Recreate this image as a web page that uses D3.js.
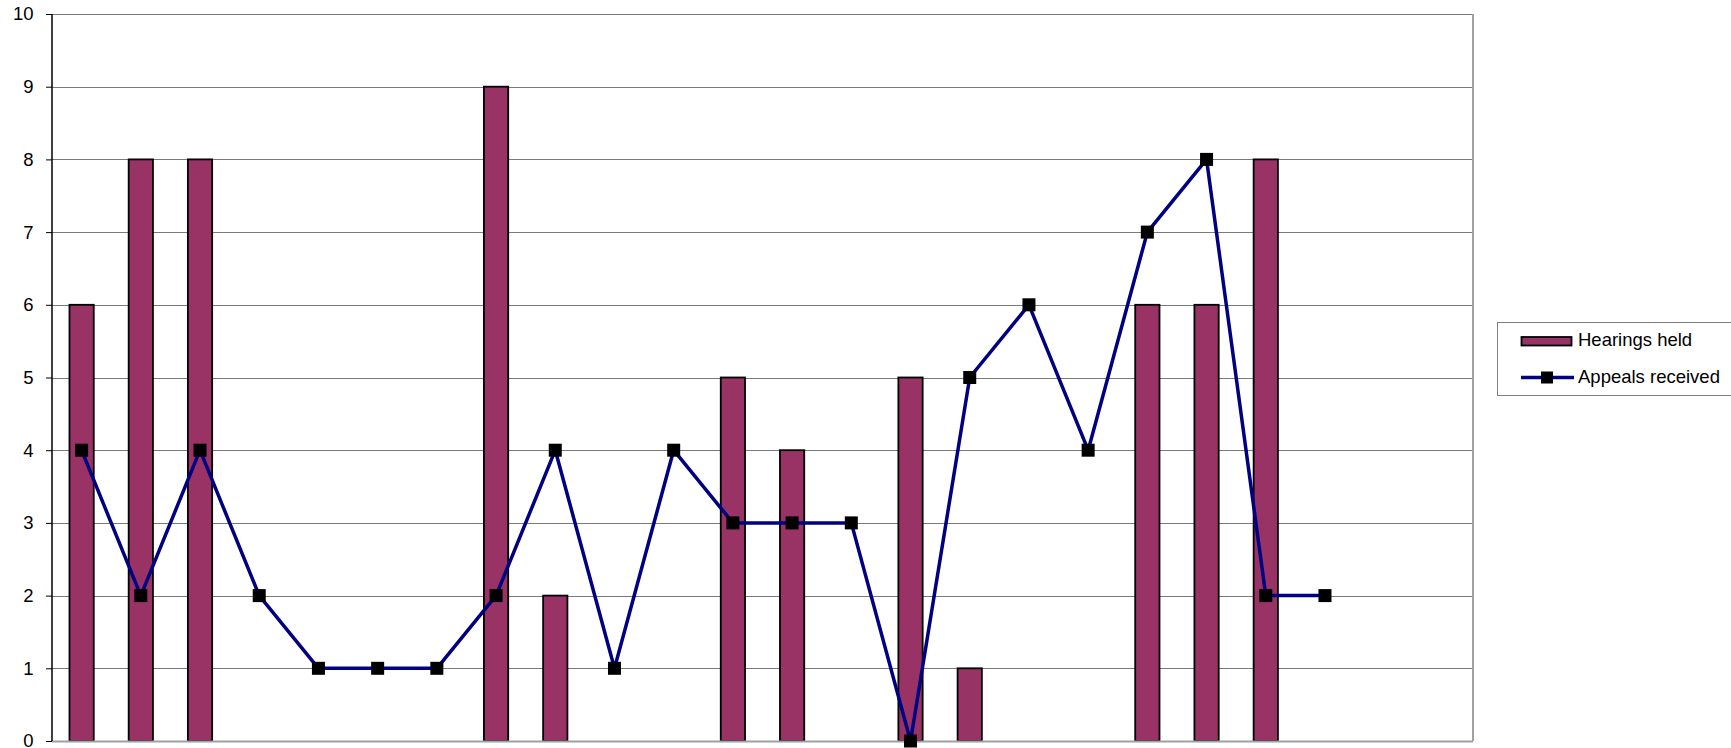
<!DOCTYPE html>
<html><head><meta charset="utf-8">
<script src="https://cdn.jsdelivr.net/npm/d3@7"></script>
<style>html,body{margin:0;padding:0;background:#fff;}svg{display:block;}</style>
</head><body>
<svg id="c" width="1731" height="748"></svg>
<script>
const categories = ["1","2","3","4","5","6","7","8","9","10","11","12","13","14","15","16","17","18","19","20","21","22","23","24"];
const hearingsHeld = [6,8,8,null,null,null,null,9,2,null,null,5,4,null,5,1,null,null,6,6,8,null,null,null];
const appealsReceived = [4,2,4,2,1,1,1,2,4,1,4,3,3,3,0,5,6,4,7,8,2,2,null,null];
const yTicks = [0,1,2,3,4,5,6,7,8,9,10];
const seriesNames = ["Hearings held","Appeals received"];

(function(){
const svg = d3.select("#c");
const pLeft = 52, pRight = 1473, pTop = 14, pBottom = 741;
const font = "'Liberation Sans', Arial, sans-serif";
const fs = 18.5;

const x = d3.scaleBand().domain(categories).range([pLeft, pRight]).paddingInner(0.59).paddingOuter(0.295);
const y = d3.scaleLinear().domain([0,10]).range([pBottom, pTop]);
const cx = c => x(c) + x.bandwidth()/2;

// gridlines
svg.append("g").selectAll("line").data(yTicks.filter(t => t > 0)).join("line")
  .attr("x1", pLeft).attr("x2", pRight)
  .attr("y1", d => Math.round(y(d)) + 0.5).attr("y2", d => Math.round(y(d)) + 0.5)
  .attr("stroke", "#7a7a7a").attr("stroke-width", 1);

// right border
svg.append("line").attr("x1", pRight).attr("x2", pRight).attr("y1", pTop).attr("y2", pBottom)
  .attr("stroke", "#a0a0a0").attr("stroke-width", 2);

// bars
svg.append("g").selectAll("rect")
  .data(categories.map((c,i) => ({c, v: hearingsHeld[i]})).filter(d => d.v != null))
  .join("rect")
  .attr("x", d => x(d.c)).attr("width", x.bandwidth())
  .attr("y", d => y(d.v)).attr("height", d => y(0) - y(d.v))
  .attr("fill", "#993366").attr("stroke", "#000").attr("stroke-width", 1.8);

// bottom axis
svg.append("line").attr("x1", pLeft).attr("x2", pRight).attr("y1", pBottom+0.5).attr("y2", pBottom+0.5)
  .attr("stroke", "#a0a0a0").attr("stroke-width", 2);

// y axis
const yAxis = d3.axisLeft(y).tickValues(yTicks).tickSize(6).tickPadding(12.5).tickFormat(d3.format("d"));
const ga = svg.append("g").attr("transform", `translate(${pLeft},0)`).call(yAxis);
ga.select(".domain").attr("stroke", "#000").attr("stroke-width", 1.5).attr("d", `M0,${pTop}V${pBottom}`);
ga.selectAll(".tick line").attr("stroke", "#000");
ga.selectAll(".tick text").attr("font-family", font).attr("font-size", fs).attr("fill", "#000");

// line
const lineData = categories.map((c,i) => ({c, v: appealsReceived[i]})).filter(d => d.v != null);
svg.append("path").datum(lineData)
  .attr("d", d3.line().x(d => cx(d.c)).y(d => y(d.v)))
  .attr("fill", "none").attr("stroke", "#000080").attr("stroke-width", 3.5).attr("stroke-linejoin", "round");
const ms = 13;
svg.append("g").selectAll("rect").data(lineData).join("rect")
  .attr("x", d => cx(d.c) - ms/2).attr("y", d => y(d.v) - ms/2)
  .attr("width", ms).attr("height", ms).attr("fill", "#000");

// legend
const lg = svg.append("g");
lg.append("rect").attr("x", 1497.5).attr("y", 322.5).attr("width", 260).attr("height", 73)
  .attr("fill", "#fff").attr("stroke", "#808080").attr("stroke-width", 1);
lg.append("rect").attr("x", 1521.5).attr("y", 337).attr("width", 50).attr("height", 8.5)
  .attr("fill", "#993366").attr("stroke", "#000").attr("stroke-width", 1.8);
lg.append("text").attr("x", 1578).attr("y", 346).text(seriesNames[0])
  .attr("font-family", font).attr("font-size", fs).attr("fill", "#000");
lg.append("line").attr("x1", 1521).attr("x2", 1574).attr("y1", 377.5).attr("y2", 377.5)
  .attr("stroke", "#000080").attr("stroke-width", 3.5);
lg.append("rect").attr("x", 1541).attr("y", 371.5).attr("width", 12).attr("height", 12).attr("fill", "#000");
lg.append("text").attr("x", 1578).attr("y", 383).text(seriesNames[1])
  .attr("font-family", font).attr("font-size", fs).attr("fill", "#000");
})();
</script>
</body></html>
